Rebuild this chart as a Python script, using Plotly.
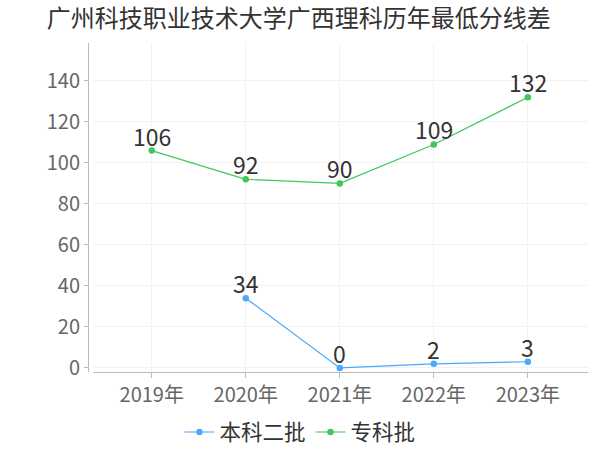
import plotly.graph_objects as go

years = ["2019年", "2020年", "2021年", "2022年", "2023年"]
benke2 = [None, 34, 0, 2, 3]
zhuanke = [106, 92, 90, 109, 132]
series_names = ["本科二批", "专科批"]
colors = ["#4aa8ff", "#3ec85a"]

font_family = "Noto Sans CJK SC, Noto Sans, sans-serif"

fig = go.Figure()
for name, vals, col in zip(series_names, [benke2, zhuanke], colors):
    fig.add_trace(go.Scatter(
        x=years, y=vals, name=name, mode="lines+markers",
        line=dict(color=col, width=1.2),
        marker=dict(color=col, size=6.5),
        connectgaps=False,
        cliponaxis=False,
    ))
    for x, v in zip(years, vals):
        if v is None:
            continue
        fig.add_annotation(x=x, y=v, text=str(v), showarrow=False,
                           xanchor="center", yanchor="middle", yshift=15,
                           font=dict(size=23, color="#333333", family=font_family))

fig.update_layout(
    width=600, height=450,
    margin=dict(l=88, r=12, t=43, b=78, autoexpand=False),
    paper_bgcolor="white", plot_bgcolor="white",
    title=dict(text="广州科技职业技术大学广西理科历年最低分线差",
               x=0.078, xanchor="left", y=0.958, yanchor="middle",
               font=dict(size=24, color="#333333", family=font_family)),
    showlegend=True,
    legend=dict(orientation="h", xref="container", x=0.5, xanchor="center",
                yref="container", y=0.04, yanchor="middle",
                font=dict(size=21.5, color="#333333", family=font_family),
                itemwidth=30, tracegroupgap=0),
    xaxis=dict(domain=[0.009, 1], range=[-0.63, 4.64], automargin=False,
               showline=True, linecolor="#bbbbbb", linewidth=1,
               ticks="outside", ticklen=5, tickcolor="#bbbbbb",
               showgrid=True, gridcolor="#f2f2f2",
               tickfont=dict(size=20, color="#666666", family=font_family),
               zeroline=False, fixedrange=True),
    yaxis=dict(anchor="free", position=0, range=[-2, 158.5], automargin=False,
               tickvals=[0, 20, 40, 60, 80, 100, 120, 140],
               showline=True, linecolor="#bbbbbb", linewidth=1,
               ticks="outside", ticklen=4, tickcolor="#bbbbbb",
               showgrid=True, gridcolor="#f2f2f2", zeroline=False,
               tickfont=dict(size=20, color="#666666", family=font_family)),
)

fig.write_html("out.html", config={"displayModeBar": False},
               post_script="document.body.style.margin='0';document.body.style.padding='0';")
